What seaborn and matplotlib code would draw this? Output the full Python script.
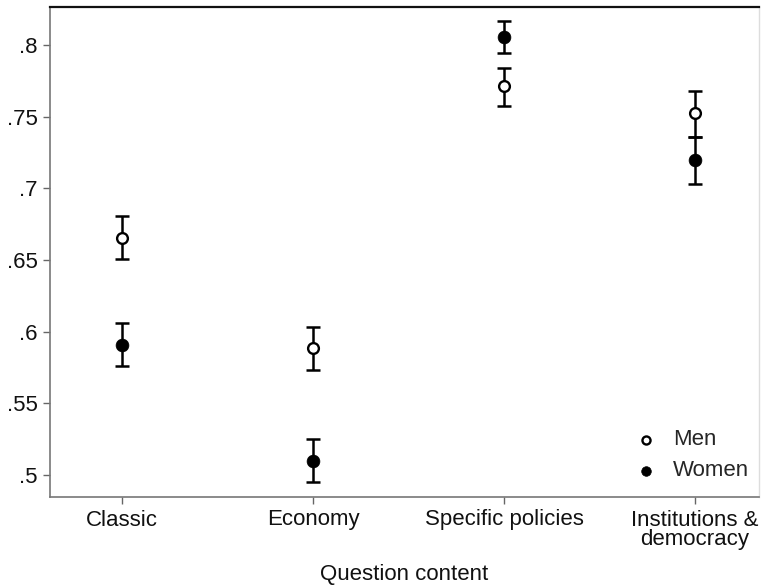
import matplotlib
matplotlib.use("Agg")
import matplotlib.pyplot as plt
import seaborn as sns
import pandas as pd
import numpy as np

categories = ["Classic", "Economy", "Specific policies", "Institutions &\ndemocracy"]
men_mean = [0.6655, 0.5885, 0.7715, 0.7525]
men_lo = [0.6505, 0.5730, 0.7575, 0.7360]
men_hi = [0.6807, 0.6035, 0.7842, 0.7679]
women_mean = [0.591, 0.5095, 0.8058, 0.7197]
women_lo = [0.5757, 0.4950, 0.7946, 0.7030]
women_hi = [0.6064, 0.5248, 0.8170, 0.7360]
yticks = [0.5, 0.55, 0.6, 0.65, 0.7, 0.75, 0.8]
ytick_labels = [".5", ".55", ".6", ".65", ".7", ".75", ".8"]

sns.set_theme(style="white")
plt.rcParams['font.family'] = ['Liberation Sans', 'DejaVu Sans']

df = pd.DataFrame({
    "cat": categories * 2,
    "x": list(range(len(categories))) * 2,
    "mean": men_mean + women_mean,
    "lo": men_lo + women_lo,
    "hi": men_hi + women_hi,
    "sex": ["Men"] * 4 + ["Women"] * 4,
})

fig = plt.figure(figsize=(7.63, 5.88), dpi=100)
ax = fig.add_axes([50/763, 91/588, 709/763, 490.5/588])

for sex in ["Men", "Women"]:
    d = df[df.sex == sex]
    ax.errorbar(d["x"], d["mean"],
                yerr=[d["mean"] - d["lo"], d["hi"] - d["mean"]],
                fmt="none", ecolor="black", elinewidth=1.8, capsize=5, capthick=1.8, zorder=2)

sns.scatterplot(data=df[df.sex == "Men"], x="x", y="mean", ax=ax, marker="o",
                s=60, facecolor="white", edgecolor="black", linewidth=1.7, zorder=3,
                label="Men")
sns.scatterplot(data=df[df.sex == "Women"], x="x", y="mean", ax=ax, marker="o",
                s=85, color="black", edgecolor="black", linewidth=0.5, zorder=3,
                label="Women")

fs = 16
ax.set_xlim(-0.377, 3.335)
ax.set_ylim(0.4846, 0.827)
ax.set_xticks(range(len(categories)))
ax.set_xticklabels(categories, fontsize=fs, color="#111111", linespacing=0.9)
ax.set_yticks(yticks)
ax.set_yticklabels(ytick_labels, fontsize=fs, color="#111111")
ax.set_xlabel("Question content", fontsize=fs, color="#111111", labelpad=10)
ax.set_ylabel("")
ax.tick_params(axis="both", which="major", length=5, width=1, color="#666666",
               direction="out", bottom=True, left=True, pad=4)

for side in ["left", "bottom"]:
    ax.spines[side].set_color("#777777")
    ax.spines[side].set_linewidth(1.2)
ax.spines["top"].set_color("#111111")
ax.spines["top"].set_linewidth(1.6)
ax.spines["right"].set_color("#dddddd")
ax.spines["right"].set_linewidth(1.0)

leg = ax.legend(loc="lower right", frameon=False, fontsize=fs, handletextpad=0.2,
                labelspacing=0.45, borderaxespad=0.3, markerscale=0.75,
                bbox_to_anchor=(1.008, 0.0))

fig.savefig("out.png", dpi=100)
